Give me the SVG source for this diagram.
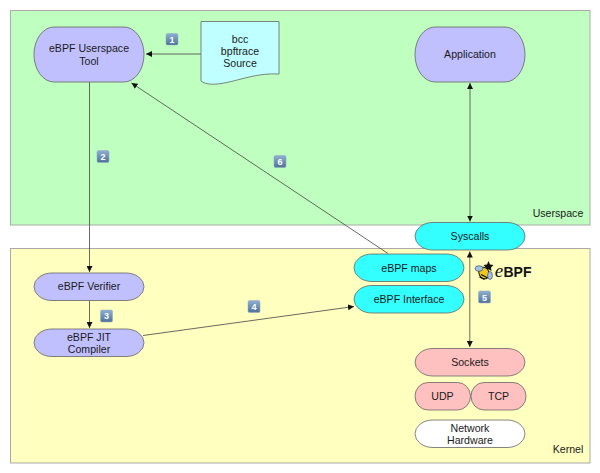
<svg xmlns="http://www.w3.org/2000/svg" width="600" height="473" viewBox="0 0 600 473">
<style>
text{font-family:"Liberation Sans",Arial,sans-serif;font-size:10.6px;fill:#1a1a1a;text-anchor:middle}
.n{stroke:#666;stroke-width:.8}
.p{fill:#c0c0ff}.c{fill:#33ffff}.r{fill:#ffc0c0}
.e{fill:none;stroke:#444;stroke-width:.8}
.b{fill:url(#bg);stroke:#8fa6c0;stroke-width:.5}
.d{font-size:9px;font-weight:bold;fill:#fff}
</style>
<defs>
<marker id="a" markerWidth="7" markerHeight="6" refX="6" refY="3" orient="auto-start-reverse" markerUnits="userSpaceOnUse"><path d="M0 0L6 3L0 6z" fill="#111"/></marker>
<linearGradient id="bg" x1="0" y1="0" x2="0" y2="1"><stop offset="0" stop-color="#8fb0d4"/><stop offset="1" stop-color="#4f7299"/></linearGradient>
</defs>
<rect id="userspace" x="10.500" y="10.500" width="579.500" height="214.500" fill="#bfffbf" stroke="#aaa"/>
<rect id="kernel" x="10.500" y="248.500" width="579.500" height="214.500" fill="#ffffc0" stroke="#aaa"/>
<text x="558" y="217">Userspace</text>
<text x="568" y="453">Kernel</text>
<g id="connectors">
<path class="e" d="M201 54H146" marker-end="url(#a)"/>
<path class="e" d="M89.500 82V272" marker-end="url(#a)"/>
<path class="e" d="M89.500 300.500V328" marker-end="url(#a)"/>
<path class="e" d="M143 335.500L354 306.500" marker-end="url(#a)"/>
<path class="e" d="M388 253.500L131.500 83" marker-end="url(#a)"/>
<path class="e" d="M470 83V221.500" marker-start="url(#a)" marker-end="url(#a)"/>
<path class="e" d="M469.800 251.500V347" marker-start="url(#a)" marker-end="url(#a)"/>
</g>
<g id="tool"><rect class="n p" x="34" y="27" width="110" height="55" rx="20" ry="27.500"/><text x="89" y="52">eBPF Userspace</text><text x="89" y="64.500">Tool</text></g>
<g id="source"><path class="n" fill="#c0ffff" d="M201 21.500H279V74C258 73 243 79 227 82.500C215 85 206 85 201 81z"/><text x="240" y="43">bcc</text><text x="240" y="55">bpftrace</text><text x="240" y="66.500">Source</text></g>
<g id="application"><rect class="n p" x="415" y="27" width="110" height="55" rx="20" ry="27.500"/><text x="470" y="58">Application</text></g>
<g id="syscalls"><rect class="n c" x="415" y="222.500" width="110" height="27.500" rx="18" ry="13.750"/><text x="470" y="240">Syscalls</text></g>
<g id="maps"><rect class="n c" x="354" y="254" width="110" height="27.500" rx="18" ry="13.750"/><text x="409" y="272">eBPF maps</text></g>
<g id="interface"><rect class="n c" x="354" y="285.500" width="110" height="27.500" rx="18" ry="13.750"/><text x="409" y="303">eBPF Interface</text></g>
<g id="verifier"><rect class="n p" x="34" y="273" width="110" height="27.500" rx="18" ry="13.750"/><text x="89" y="290">eBPF Verifier</text></g>
<g id="jit"><rect class="n p" x="34" y="329" width="110" height="27.500" rx="18" ry="13.750"/><text x="89" y="340.500">eBPF JIT</text><text x="89" y="353">Compiler</text></g>
<g id="sockets"><rect class="n r" x="415" y="348.500" width="110" height="27.500" rx="18" ry="13.750"/><text x="470" y="366">Sockets</text></g>
<g id="udp"><rect class="n r" x="415" y="382.500" width="55.500" height="27.500" rx="13" ry="13.750"/><text x="442.500" y="400">UDP</text></g>
<g id="tcp"><rect class="n r" x="471" y="382.500" width="55" height="27.500" rx="13" ry="13.750"/><text x="498.500" y="400">TCP</text></g>
<g id="hardware"><rect class="n" fill="#fff" x="415" y="420" width="110" height="27.500" rx="18" ry="13.750"/><text x="470" y="431.500">Network</text><text x="470" y="443.500">Hardware</text></g>
<g id="logo">
<path d="M488.500 261l1.500 3.500 3.500 .5-2.500 2.500 .5 3.500-3-1.700-3 1.700 .5-3.500-2.500-2.500 3.500-.5z" fill="#111"/>
<ellipse cx="484" cy="273" rx="5" ry="6" fill="#f2c81e" stroke="#111" transform="rotate(-30 484 273)"/>
<path d="M481 274.500l6 3M479.500 277l5 2.500" stroke="#111" stroke-width="1.200"/>
<ellipse cx="479" cy="268.500" rx="4" ry="2.800" fill="#9fc4e8" stroke="#335" stroke-width=".6"/>
<ellipse cx="490" cy="275.500" rx="2.400" ry="4" fill="#9fc4e8" stroke="#335" stroke-width=".6"/>
<text x="499" y="277" style="font-family:'Liberation Serif',serif;font-style:italic;font-size:19px;fill:#111">e</text>
<text x="517.500" y="277" style="font-weight:bold;font-size:14px;fill:#111">BPF</text>
</g>
<g id="badges">
<rect class="b" x="166" y="33.500" width="12" height="11.500" rx="1.500"/><text class="d" x="172" y="42.500">1</text>
<rect class="b" x="97" y="150.500" width="12" height="12" rx="1.500"/><text class="d" x="103" y="159.500">2</text>
<rect class="b" x="274" y="155.500" width="12" height="12" rx="1.500"/><text class="d" x="280" y="164.500">6</text>
<rect class="b" x="100.500" y="310" width="12" height="12" rx="1.500"/><text class="d" x="106.500" y="319">3</text>
<rect class="b" x="248" y="300.500" width="12" height="12" rx="1.500"/><text class="d" x="254" y="309.500">4</text>
<rect class="b" x="478.500" y="291" width="12" height="12" rx="1.500"/><text class="d" x="484.500" y="300.500">5</text>
</g>
</svg>
